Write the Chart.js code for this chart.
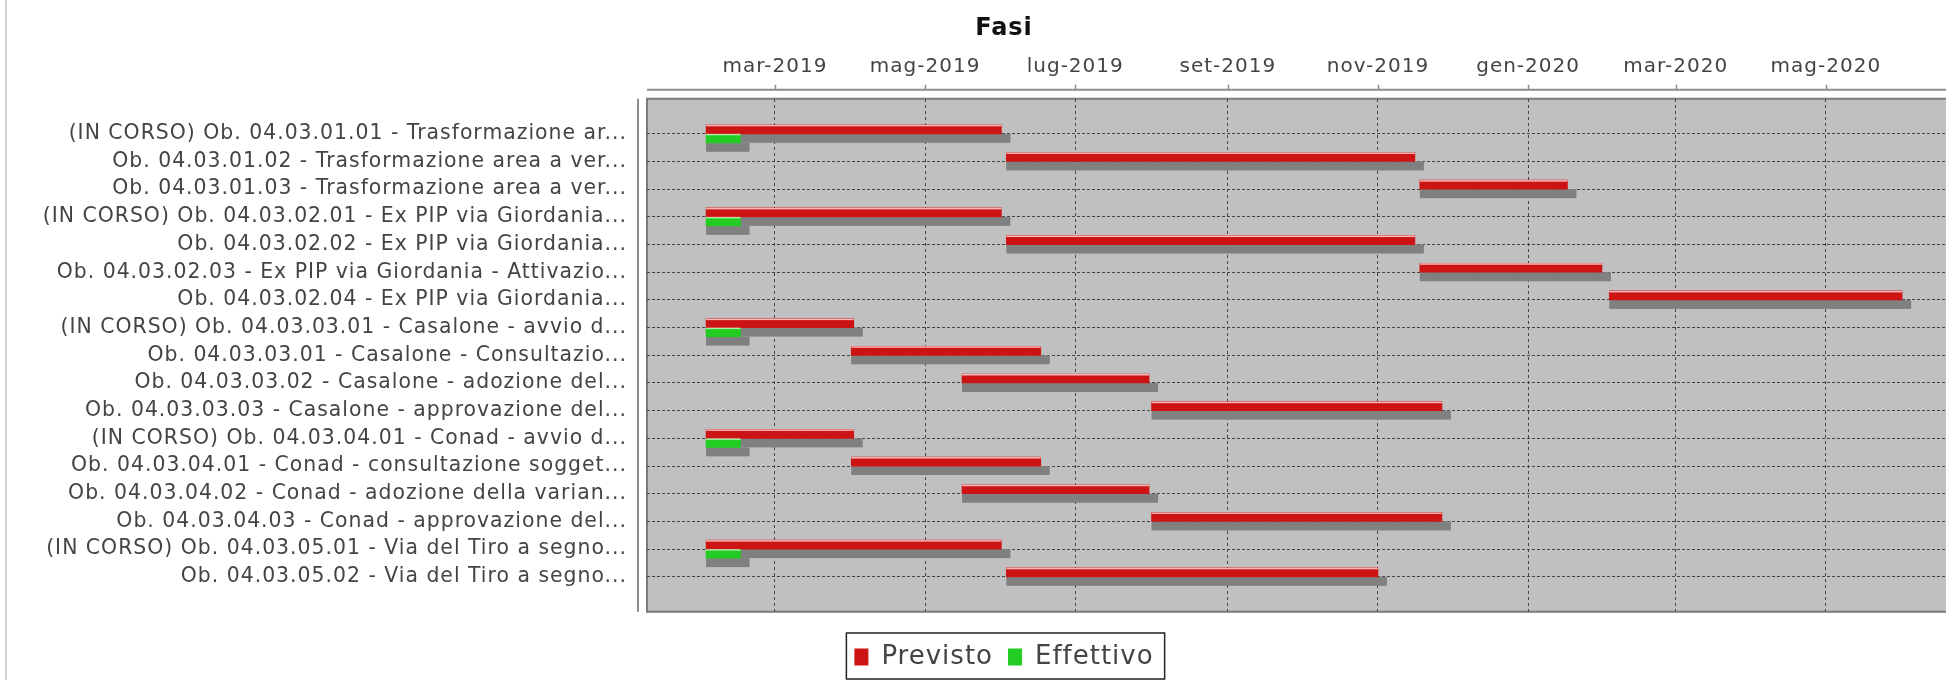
<!DOCTYPE html>
<html><head><meta charset="utf-8">
<script src="https://cdn.jsdelivr.net/npm/chart.js@4/dist/chart.umd.min.js"></script>
<style>
html,body{margin:0;padding:0;background:#fff;overflow:hidden;width:1946px;height:680px;}
#wrap{position:relative;width:1946px;height:680px;overflow:hidden;}
#edge{position:absolute;left:5px;top:0;width:2px;height:680px;background:#cfcfcf;}
canvas{position:absolute;left:0;top:0;}
</style></head><body>
<div id="wrap"><canvas id="c" width="2008" height="680"></canvas><div id="edge"></div></div>
<script>
const taskLabels = [
  "(IN CORSO) Ob. 04.03.01.01 - Trasformazione ar...",
  "Ob. 04.03.01.02 - Trasformazione area a ver...",
  "Ob. 04.03.01.03 - Trasformazione area a ver...",
  "(IN CORSO) Ob. 04.03.02.01 - Ex PIP via Giordania...",
  "Ob. 04.03.02.02 - Ex PIP via Giordania...",
  "Ob. 04.03.02.03 - Ex PIP via Giordania - Attivazio...",
  "Ob. 04.03.02.04 - Ex PIP via Giordania...",
  "(IN CORSO) Ob. 04.03.03.01 - Casalone - avvio d...",
  "Ob. 04.03.03.01 - Casalone - Consultazio...",
  "Ob. 04.03.03.02 - Casalone - adozione del...",
  "Ob. 04.03.03.03 - Casalone - approvazione del...",
  "(IN CORSO) Ob. 04.03.04.01 - Conad - avvio d...",
  "Ob. 04.03.04.01 - Conad - consultazione sogget...",
  "Ob. 04.03.04.02 - Conad - adozione della varian...",
  "Ob. 04.03.04.03 - Conad - approvazione del...",
  "(IN CORSO) Ob. 04.03.05.01 - Via del Tiro a segno...",
  "Ob. 04.03.05.02 - Via del Tiro a segno..."
];
const plannedStart = ["2019-02-01","2019-06-03","2019-11-18","2019-02-01","2019-06-03","2019-11-18","2020-02-03","2019-02-01","2019-04-01","2019-05-16","2019-08-01","2019-02-01","2019-04-01","2019-05-16","2019-08-01","2019-02-01","2019-06-03"];
const plannedEnd   = ["2019-06-01","2019-11-16","2020-01-17","2019-06-01","2019-11-16","2020-01-31","2020-06-01","2019-04-02","2019-06-17","2019-07-31","2019-11-27","2019-04-02","2019-06-17","2019-07-31","2019-11-27","2019-06-01","2019-11-01"];
const actualRows   = [0, 3, 7, 11, 15];
const actualStart  = ["2019-02-01","2019-02-01","2019-02-01","2019-02-01","2019-02-01"];
const actualEnd    = ["2019-02-15","2019-02-15","2019-02-15","2019-02-15","2019-02-15"];
const seriesNames  = ["Previsto", "Effettivo"];
const tickDates    = ["2019-03-01","2019-05-01","2019-07-01","2019-09-01","2019-11-01","2020-01-01","2020-03-01","2020-05-01"];
const tickLabels   = ["mar-2019","mag-2019","lug-2019","set-2019","nov-2019","gen-2020","mar-2020","mag-2020"];
const axisRange    = ["2019-01-08","2020-07-14"];

const day = s => Date.UTC(+s.slice(0,4), +s.slice(5,7) - 1, +s.slice(8,10)) / 86400000;
const FONT = '"DejaVu Sans", sans-serif';

const previstoData = plannedStart.map((s, i) => ({ x: [day(s), day(plannedEnd[i])], y: i }));
const effettivoData = actualRows.map((r, k) => ({ x: [day(actualStart[k]), day(actualEnd[k])], y: r }));

const spacingPlugin = {
  id: 'spacing',
  beforeUpdate(chart) { chart.ctx.letterSpacing = '1px'; },
  beforeDraw(chart) { chart.ctx.letterSpacing = '1px'; }
};

const framePlugin = {
  id: 'frame',
  beforeDraw(chart) {
    const { ctx, chartArea: a, scales: { x } } = chart;
    ctx.save();
    ctx.fillStyle = '#c0c0c0';
    ctx.fillRect(a.left, a.top, a.right - a.left, a.bottom - a.top);
    ctx.strokeStyle = '#7a7a7a';
    ctx.lineWidth = 2;
    ctx.beginPath();
    ctx.moveTo(a.right, a.top); ctx.lineTo(a.left, a.top);
    ctx.lineTo(a.left, a.bottom); ctx.lineTo(a.right, a.bottom);
    ctx.stroke();
    const ay = a.top - 9, ax = a.left - 9;
    ctx.strokeStyle = '#8c8c8c';
    ctx.beginPath();
    ctx.moveTo(a.left, ay); ctx.lineTo(a.right, ay);
    ctx.moveTo(ax, a.top); ctx.lineTo(ax, a.bottom);
    ctx.stroke();
    ctx.lineWidth = 1.5;
    ctx.beginPath();
    x.ticks.forEach(t => {
      const px = Math.round(x.getPixelForValue(t.value)) + 0.5;
      ctx.moveTo(px, ay - 5); ctx.lineTo(px, ay);
    });
    ctx.stroke();
    ctx.restore();
  }
};

const barBox = el => {
  const { x, y, base, height } = el.getProps(['x', 'y', 'base', 'height'], true);
  return { l: Math.min(x, base), r: Math.max(x, base), t: y - height / 2, h: height };
};

const shadowPlugin = {
  id: 'shadow',
  beforeDatasetsDraw(chart) {
    const ctx = chart.ctx;
    ctx.save();
    ctx.fillStyle = '#808080';
    chart.data.datasets.forEach((ds, di) => {
      chart.getDatasetMeta(di).data.forEach(el => {
        const b = barBox(el);
        if (!isFinite(b.l) || !isFinite(b.r)) return;
        ctx.fillRect(b.l, b.t + 9, b.r - b.l + 9, b.h);
      });
    });
    ctx.restore();
  },
  afterDatasetsDraw(chart) {
    const ctx = chart.ctx;
    ctx.save();
    chart.data.datasets.forEach((ds, di) => {
      ctx.fillStyle = di === 0 ? 'rgba(255,215,215,0.85)' : 'rgba(230,255,230,0.7)';
      chart.getDatasetMeta(di).data.forEach(el => {
        const b = barBox(el);
        if (!isFinite(b.l) || !isFinite(b.r)) return;
        ctx.fillRect(b.l, b.t, b.r - b.l, 1.5);
      });
    });
    ctx.restore();
  }
};

const legendBorderPlugin = {
  id: 'legendBorder',
  afterDraw(chart) {
    const hb = chart.legend && chart.legend.legendHitBoxes;
    if (!hb || !hb.length) return;
    const ctx = chart.ctx;
    const l = Math.min(...hb.map(h => h.left)) - 8;
    const r = Math.max(...hb.map(h => h.left + h.width)) + 11;
    const t = hb[0].top - 11;
    const b = hb[0].top + hb[0].height + 9;
    ctx.save();
    ctx.strokeStyle = '#222';
    ctx.lineWidth = 1.5;
    ctx.strokeRect(l, t, r - l, b - t);
    ctx.restore();
  }
};

new Chart(document.getElementById('c'), {
  type: 'bar',
  data: {
    datasets: [
      { label: seriesNames[0], data: previstoData, backgroundColor: '#cc1414', borderWidth: 0 },
      { label: seriesNames[1], data: effettivoData, backgroundColor: '#22cc22', borderWidth: 0 }
    ]
  },
  options: {
    indexAxis: 'y',
    responsive: false,
    animation: false,
    events: [],
    layout: { padding: { left: 0, right: 0, top: 0, bottom: 0 } },
    datasets: { bar: { barThickness: 9, grouped: true } },
    scales: {
      x: {
        type: 'linear', position: 'top', offset: false,
        min: day(axisRange[0]), max: day(axisRange[1]),
        afterBuildTicks: s => { s.ticks = tickDates.map(d => ({ value: day(d) })); },
        afterFit: s => { s.height = 44; },
        ticks: { callback: (v, i) => tickLabels[i], padding: 20, autoSkip: false, maxRotation: 0,
                 font: { family: FONT, size: 20 }, color: '#444' },
        grid: { color: '#454545', lineWidth: 1, drawTicks: false, offset: false },
        border: { display: false, dash: [3, 3] }
      },
      y: {
        type: 'linear', reverse: true, min: -1.264, max: 17.264, offset: false,
        afterBuildTicks: s => { s.ticks = taskLabels.map((_, i) => ({ value: i })); },
        afterFit: s => { s.width = 647; },
        ticks: { callback: v => taskLabels[v], padding: 20, autoSkip: false,
                 font: { family: FONT, size: 20.4 }, color: '#444' },
        grid: { color: '#454545', lineWidth: 1, drawTicks: false, offset: false },
        border: { display: false, dash: [3, 2] }
      }
    },
    plugins: {
      title: { display: true, text: 'Fasi', color: '#111',
               font: { family: FONT, size: 24, weight: 'bold' }, padding: { top: 14, bottom: 12 } },
      legend: {
        position: 'bottom',
        title: { display: true, text: '', font: { size: 1 }, padding: { top: 16, bottom: 0 } },
        labels: { font: { family: FONT, size: 26 }, color: '#444', boxWidth: 14, boxHeight: 17, padding: 15 }
      },
      tooltip: { enabled: false }
    }
  },
  plugins: [spacingPlugin, framePlugin, shadowPlugin, legendBorderPlugin]
});
</script>
</body></html>
